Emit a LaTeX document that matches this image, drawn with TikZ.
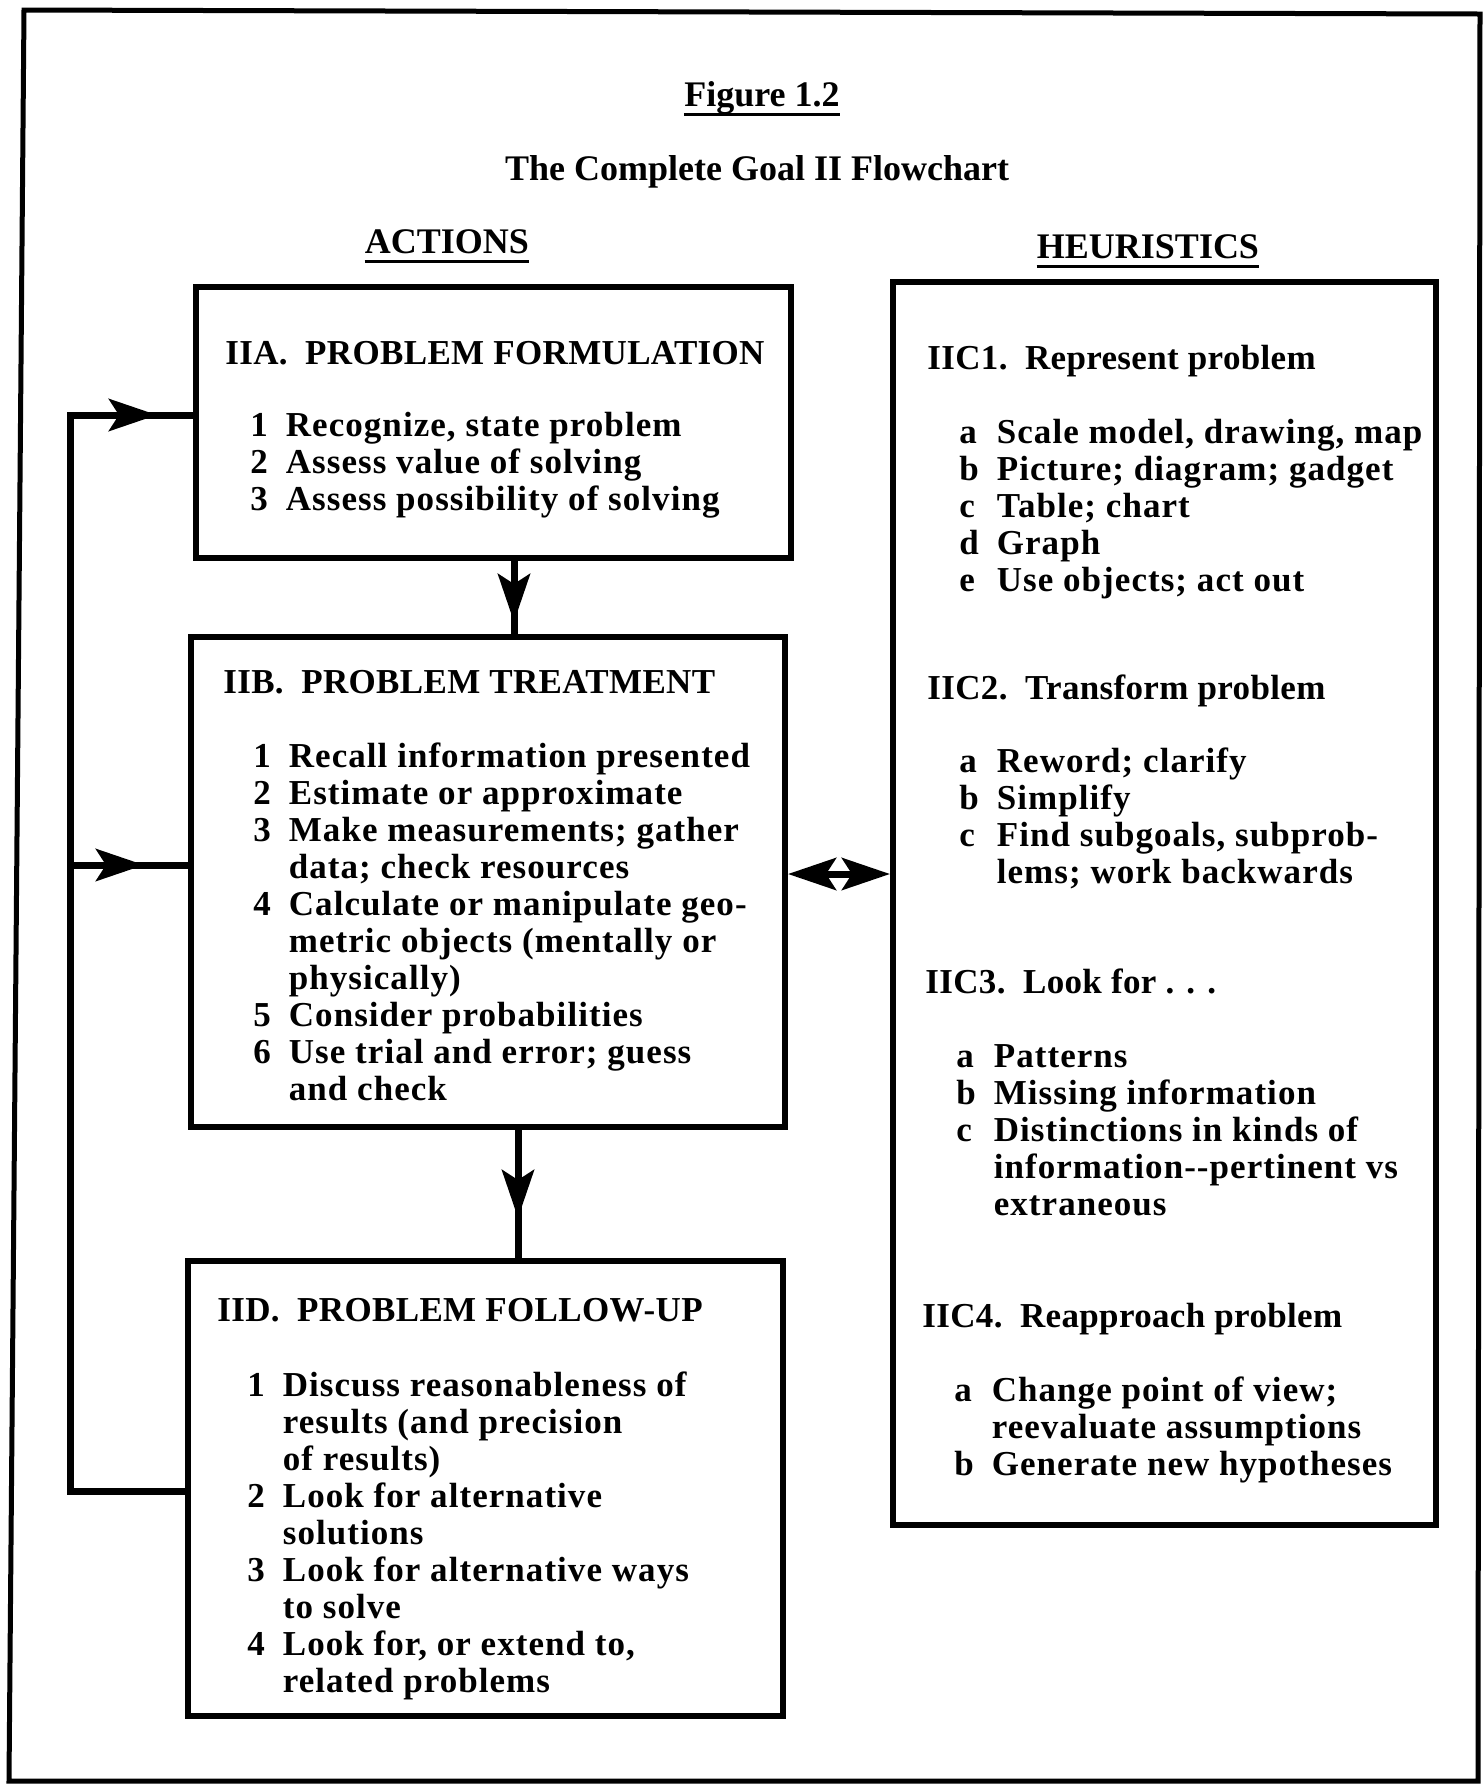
\documentclass[tikz,border=0pt]{standalone}
\usepackage{fontspec}
\setmainfont{Liberation Serif}
\usetikzlibrary{arrows.meta,decorations.markings}
\tikzset{
  box/.style={draw, line width=3pt, inner sep=0pt},
  head/.style={anchor=base west, inner sep=0pt, font=\bfseries\fontsize{17.5}{18.5}\selectfont\addfontfeatures{LetterSpace=1}},
  list/.style={anchor=base west, inner sep=0pt, font=\bfseries\fontsize{17.5}{18.5}\selectfont\addfontfeatures{LetterSpace=3}},
  ttl/.style={anchor=base, inner sep=0pt, font=\bfseries\fontsize{18}{20}\selectfont},
  conn/.style={line width=3.5pt},
  tipmark/.style={postaction={decorate}, decoration={markings,
      mark=at position #1 with {\arrow{Stealth[length=24pt,width=16pt,inset=5pt]}}}},
  both/.style={{Stealth[length=24pt,width=16pt,inset=5pt]}-{Stealth[length=24pt,width=16pt,inset=5pt]}},
  uline/.style={line width=1.5pt}
}
\begin{document}
\begin{tikzpicture}[x=0.5pt,y=-0.5pt]
\useasboundingbox (0,0) rectangle (1484,1785);
\fill[white] (0,0) rectangle (1484,1785);
\draw[line width=2.5pt] (24,10) -- (1480,14) -- (1478,1781) -- (9,1781) -- cycle;

% titles
\node[ttl] (fig) at (762,106) {Figure 1.2};
\draw[uline] ([yshift=-4pt]fig.base west) -- ([yshift=-4pt]fig.base east);
\node[ttl] (sub) at (757,180) {The Complete Goal II Flowchart};
\node[ttl] (act) at (447,253) {ACTIONS};
\draw[uline] ([yshift=-4pt]act.base west) -- ([yshift=-4pt]act.base east);
\node[ttl] (heu) at (1148,258) {HEURISTICS};
\draw[uline] ([yshift=-4pt]heu.base west) -- ([yshift=-4pt]heu.base east);

% boxes
\node[box, minimum width=297.5pt, minimum height=135.5pt] (IIA) at (493.5,422.5) {};
\node[box, minimum width=297pt, minimum height=245pt] (IIB) at (488,882) {};
\node[box, minimum width=297.5pt, minimum height=227.5pt] (IID) at (485.5,1488.5) {};
\node[box, minimum width=271.5pt, minimum height=621.5pt] (HEU) at (1164.5,903.5) {};

% IIA text
\node[head] (hA) at (225,364) {IIA.\enspace PROBLEM FORMULATION};
\node[list] (lA) at (250,436) {\begin{tabular}[t]{@{}l@{\hspace{9pt}}l@{}}
1 & Recognize, state problem\\
2 & Assess value of solving\\
3 & Assess possibility of solving
\end{tabular}};

% IIB text
\node[head] (hB) at (223,693) {IIB.\enspace PROBLEM TREATMENT};
\node[list] (lB) at (253,767) {\begin{tabular}[t]{@{}l@{\hspace{9pt}}l@{}}
1 & Recall information presented\\
2 & Estimate or approximate\\
3 & Make measurements; gather\\
  & data; check resources\\
4 & Calculate or manipulate geo-\\
  & metric objects (mentally or\\
  & physically)\\
5 & Consider probabilities\\
6 & Use trial and error; guess\\
  & and check
\end{tabular}};

% IID text
\node[head] (hD) at (217,1321) {IID.\enspace PROBLEM FOLLOW-UP};
\node[list] (lD) at (247,1396) {\begin{tabular}[t]{@{}l@{\hspace{9pt}}l@{}}
1 & Discuss reasonableness of\\
  & results (and precision\\
  & of results)\\
2 & Look for alternative\\
  & solutions\\
3 & Look for alternative ways\\
  & to solve\\
4 & Look for, or extend to,\\
  & related problems
\end{tabular}};

% Heuristics text
\node[head] (hC1) at (927,369) {IIC1.\enspace Represent problem};
\node[list] (lC1) at (959,443) {\begin{tabular}[t]{@{}l@{\hspace{9pt}}l@{}}
a & Scale model, drawing, map\\
b & Picture; diagram; gadget\\
c & Table; chart\\
d & Graph\\
e & Use objects; act out
\end{tabular}};
\node[head] (hC2) at (927,699) {IIC2.\enspace Transform problem};
\node[list] (lC2) at (959,772) {\begin{tabular}[t]{@{}l@{\hspace{9pt}}l@{}}
a & Reword; clarify\\
b & Simplify\\
c & Find subgoals, subprob-\\
  & lems; work backwards
\end{tabular}};
\node[head] (hC3) at (925,993) {IIC3.\enspace Look for . . .};
\node[list] (lC3) at (956,1067) {\begin{tabular}[t]{@{}l@{\hspace{9pt}}l@{}}
a & Patterns\\
b & Missing information\\
c & Distinctions in kinds of\\
  & information-{}-pertinent vs\\
  & extraneous
\end{tabular}};
\node[head] (hC4) at (922,1327) {IIC4.\enspace Reapproach problem};
\node[list] (lC4) at (954,1401) {\begin{tabular}[t]{@{}l@{\hspace{9pt}}l@{}}
a & Change point of view;\\
  & reevaluate assumptions\\
b & Generate new hypotheses
\end{tabular}};

% connectors
\coordinate (fbTop) at (70,415);
\coordinate (fbMid) at (70,865);
\coordinate (fbBot) at (70,1491);
\coordinate (dA) at (514,0);
\coordinate (dB) at (518,0);
\coordinate (dbl) at (0,874);
\draw[conn, line join=miter, tipmark=-18pt] (fbBot -| IID.west) -- (fbBot) -- (fbTop) -- (fbTop -| IIA.west);
\draw[conn, tipmark=-22pt] (fbMid) -- (fbMid -| IIB.west);
\draw[conn, tipmark=-6pt] (IIA.south -| dA) -- (IIB.north -| dA);
\draw[conn, tipmark=-20pt] (IIB.south -| dB) -- (IID.north -| dB);
\draw[conn, both] (dbl -| IIB.east) -- (dbl -| HEU.west);
\end{tikzpicture}
\end{document}
